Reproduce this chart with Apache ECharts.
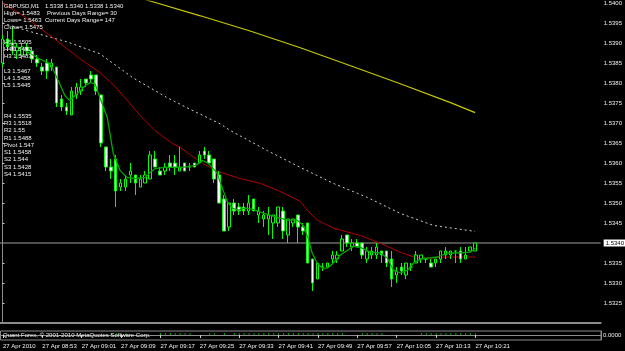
<!DOCTYPE html>
<html><head><meta charset="utf-8">
<script src="https://cdn.jsdelivr.net/npm/echarts@6/dist/echarts.min.js"></script>
<style>html,body{margin:0;padding:0;background:#000;}#c{width:625px;height:351px;}</style>
</head><body><div id="c"></div>
<script>
// ---- data ----
const timeLabels = ['27 Apr 2010','27 Apr 08:53','27 Apr 09:01','27 Apr 09:09','27 Apr 09:17','27 Apr 09:25','27 Apr 09:33','27 Apr 09:41','27 Apr 09:49','27 Apr 09:57','27 Apr 10:05','27 Apr 10:13','27 Apr 10:21'];
const opens = [1.5385,1.5391,1.5390,1.5388,1.5387,1.5389,1.5388,1.5386,1.5384,1.5385,1.5384,1.5384,1.5376,1.5374,1.5372,1.5377,1.5378,1.5381,1.5382,1.5382,1.5377,1.5364,1.5359,1.5361,1.5354,1.5354,1.5357,1.5357,1.5354,1.5355,1.5356,1.5361,1.5358,1.5358,1.5360,1.5360,1.5358,1.5360,1.5359,1.5360,1.5360,1.5363,1.5362,1.5361,1.5357,1.5351,1.5344,1.5350,1.5349,1.5349,1.5348,1.5351,1.5347,1.5346,1.5346,1.5345,1.5345,1.5348,1.5342,1.5345,1.5347,1.5344,1.5345,1.5336,1.5331,1.5334,1.5334,1.5336,1.5336,1.5338,1.5342,1.5339,1.5340,1.5340,1.5336,1.5337,1.5337,1.5338,1.5338,1.5336,1.5332,1.5334,1.5332,1.5334,1.5335,1.5336,1.5336,1.5335,1.5335,1.5336,1.5337,1.5337,1.5338,1.5338,1.5336,1.5338,1.5338];
const closes = [1.5391,1.5389,1.5388,1.5389,1.5389,1.5388,1.5386,1.5385,1.5383,1.5383,1.5385,1.5375,1.5374,1.5373,1.5378,1.5379,1.5379,1.5380,1.5381,1.5378,1.5365,1.5359,1.5358,1.5353,1.5355,1.5356,1.5358,1.5355,1.5356,1.5357,1.5362,1.5359,1.5357,1.5359,1.5359,1.5359,1.5359,1.5358,1.5359,1.5359,1.5362,1.5362,1.5360,1.5356,1.5350,1.5343,1.5350,1.5348,1.5348,1.5348,1.5350,1.5348,1.5348,1.5347,1.5347,1.5347,1.5349,1.5343,1.5346,1.5346,1.5344,1.5343,1.5335,1.5330,1.5335,1.5334,1.5335,1.5337,1.5337,1.5341,1.5340,1.5340,1.5339,1.5337,1.5338,1.5338,1.5339,1.5337,1.5335,1.5331,1.5333,1.5333,1.5335,1.5334,1.5337,1.5337,1.5336,1.5334,1.5336,1.5338,1.5338,1.5338,1.5338,1.5336,1.5337,1.5339,1.5340];
const lows = [1.5384,1.5388,1.5387,1.5386,1.5386,1.5387,1.5385,1.5384,1.5382,1.5381,1.5383,1.5374,1.5373,1.5372,1.5372,1.5376,1.5377,1.5379,1.5380,1.5377,1.5364,1.5358,1.5356,1.5349,1.5353,1.5353,1.5355,1.5352,1.5354,1.5355,1.5356,1.5359,1.5357,1.5357,1.5358,1.5357,1.5358,1.5358,1.5358,1.5359,1.5360,1.5361,1.5360,1.5355,1.5350,1.5343,1.5343,1.5347,1.5347,1.5347,1.5347,1.5348,1.5345,1.5344,1.5342,1.5341,1.5344,1.5341,1.5340,1.5344,1.5340,1.5342,1.5335,1.5328,1.5331,1.5333,1.5334,1.5335,1.5335,1.5338,1.5339,1.5338,1.5339,1.5336,1.5335,1.5336,1.5336,1.5335,1.5334,1.5329,1.5330,1.5332,1.5331,1.5333,1.5335,1.5335,1.5335,1.5334,1.5334,1.5335,1.5336,1.5336,1.5335,1.5335,1.5336,1.5338,1.5338];
const highs = [1.5392,1.5393,1.5394,1.5390,1.5390,1.5390,1.5389,1.5387,1.5385,1.5386,1.5386,1.5384,1.5377,1.5375,1.5379,1.5380,1.5381,1.5381,1.5383,1.5382,1.5377,1.5364,1.5361,1.5362,1.5356,1.5357,1.5360,1.5357,1.5357,1.5358,1.5363,1.5363,1.5359,1.5360,1.5362,1.5362,1.5364,1.5360,1.5360,1.5360,1.5363,1.5364,1.5363,1.5361,1.5358,1.5352,1.5350,1.5351,1.5350,1.5350,1.5352,1.5351,1.5349,1.5348,1.5349,1.5347,1.5349,1.5349,1.5346,1.5346,1.5347,1.5345,1.5345,1.5336,1.5335,1.5335,1.5335,1.5338,1.5338,1.5342,1.5342,1.5341,1.5341,1.5340,1.5339,1.5339,1.5340,1.5338,1.5338,1.5338,1.5334,1.5335,1.5335,1.5335,1.5338,1.5337,1.5336,1.5336,1.5336,1.5338,1.5339,1.5338,1.5338,1.5339,1.5339,1.5339,1.5340];
// moving averages: [bar index, price]
const maFast = [[0,1.53900],[1,1.53898],[4,1.53885],[7.6,1.53860],[9.7,1.53848],[10.7,1.53823],[12.7,1.53768],[13.7,1.53756],[14.7,1.53768],[15.8,1.53781],[16.8,1.53793],[17.8,1.53801],[18.8,1.53798],[19.8,1.53763],[21.3,1.53713],[22.5,1.53624],[23.9,1.53581],[25.3,1.53564],[27,1.53561],[29,1.53564],[30,1.53576],[31,1.53586],[33,1.53589],[36.5,1.53589],[39.2,1.53594],[40.6,1.53606],[41.6,1.53601],[42.6,1.53589],[43.6,1.53574],[44.6,1.53539],[45.7,1.53502],[46.7,1.53487],[47.9,1.53482],[49.3,1.53487],[50.9,1.53484],[52.4,1.53477],[54.4,1.53469],[56.4,1.53462],[57.9,1.53457],[59.9,1.53457],[61.1,1.53444],[62.1,1.53412],[62.9,1.53375],[63.9,1.53350],[65,1.53337],[66,1.53337],[67.2,1.53350],[68.6,1.53370],[70.1,1.53382],[71.3,1.53392],[72.7,1.53389],[74.7,1.53377],[76.8,1.53375],[78.2,1.53362],[79.4,1.53332],[80.8,1.53325],[82.3,1.53332],[83.5,1.53350],[84.9,1.53360],[86.3,1.53362],[88.4,1.53365],[90.4,1.53375],[92.4,1.53375],[95,1.53377],[96,1.53387]];
const maMid = [[0,1.54000],[4.6,1.53965],[11.1,1.53905],[15.8,1.53860],[19.8,1.53826],[22.5,1.53796],[24.9,1.53763],[28,1.53718],[31,1.53681],[34.5,1.53649],[36.1,1.53639],[39.8,1.53606],[43.2,1.53581],[48.3,1.53561],[52.4,1.53549],[56.4,1.53529],[60.5,1.53504],[61.9,1.53482],[64,1.53457],[67.2,1.53437],[72.7,1.53419],[76.8,1.53399],[80.8,1.53377],[83.5,1.53365],[86.3,1.53362],[90.4,1.53365],[96,1.53365]];
const maSlow = [[0,1.53950],[5.2,1.53930],[13.1,1.53903],[19.8,1.53873],[26.5,1.53813],[33.5,1.53763],[37.5,1.53738],[44.2,1.53698],[46.3,1.53681],[53.8,1.53631],[60.5,1.53589],[67.2,1.53549],[74.1,1.53514],[80.8,1.53474],[87.5,1.53444],[96,1.53429]];
const maLong = [[26,1.54020],[30,1.54005],[40.2,1.53968],[50.3,1.53930],[60.5,1.53888],[70.7,1.53843],[80.8,1.53798],[91,1.53751],[96,1.53726]];
const indicatorVals = [0,0,0,0,0,0,0,0,0,0,0,0,0,0,0,0,0,0,0,0,0,0,1,1,1,1,0,0,0,0,0,0,1,1,1,1,1,1,1,0,0,0,1,1,0,1,0,1,1,1,1,1,1,1,1,1,1,1,1,1,1,1,1,1,1,1,1,1,1,1,0,0,0,1,1,1,1,1,0,0,0,0,0,0,0,1,1,1,1,1,1,1,1,1,1,1,1];
const priceTicks = [1.5325,1.5330,1.5335,1.5345,1.5350,1.5355,1.5360,1.5365,1.5370,1.5375,1.5380,1.5385,1.5390,1.5395,1.5400];
const bidPrice = 1.5340;
const infoLeft = ['GBPUSD,M1','High= 1.5483','Lows= 1.5463','Close= 1.5475'];
const infoRight = ['1.5338 1.5340 1.5338 1.5340','Previous Days Range= 30','Current Days Range= 147'];
const levelsH = ['H5 1.5505','H4 1.5492','H3 1.5483'];
const levelsL = ['L3 1.5467','L4 1.5458','L5 1.5445'];
const pivots = ['R4 1.5535','R3 1.5518','R2 1.55','R1 1.5488','Pivot 1.547','S1 1.5458','S2 1.544','S3 1.5428','S4 1.5415'];
const copyright = 'Quant Forex, © 2001-2010 MetaQuotes Software Corp.';

// ---- build ----
const NCAT = 122;
const cats = [];
for (let i = 0; i < NCAT; i++) { const m = 8*60+45+i; cats.push(String(Math.floor(m/60)).padStart(2,'0')+':'+String(m%60).padStart(2,'0')); }
const candles = opens.map((o,i)=>[o, closes[i], lows[i], highs[i]]);
const bidLine = [[-0.5, bidPrice], [NCAT-0.5, bidPrice]];
const FONT = 'Liberation Sans';
const txtCol = '#f0f0f0';
const graphics = [];
function addText(x,y,t){ graphics.push({type:'text', left:x, top:y, style:{text:t, fill:txtCol, font:'6px "'+FONT+'"'}, z:100}); }
infoLeft.forEach((t,i)=>addText(4, 3+i*7.2, t));
infoRight.forEach((t,i)=>addText(i===1?47:45, 3+i*7.2, t));
levelsH.forEach((t,i)=>addText(4, 39+i*7.2, t));
levelsL.forEach((t,i)=>addText(4, 68+i*7.3, t));
pivots.forEach((t,i)=>addText(4, 113+i*7.3, t));
addText(3, 332, copyright);

const chart = echarts.init(document.getElementById('c'), null, {renderer:'canvas'});
const axisGray = '#8c8c8c';
chart.setOption({
  backgroundColor:'#000',
  animation:false,
  grid:[{left:0, top:0, width:601, height:323, show:false},
        {left:0, top:331, width:601, height:9, show:true, borderColor:axisGray, borderWidth:1, backgroundColor:'transparent'}],
  xAxis:[
    {type:'category', gridIndex:0, data:cats, boundaryGap:true, axisLine:{show:true, lineStyle:{color:axisGray, width:2}}, axisTick:{show:false}, axisLabel:{show:false}, splitLine:{show:false}},
    {type:'value', gridIndex:0, min:-0.5, max:NCAT-0.5, show:false},
    {type:'category', gridIndex:1, data:cats, boundaryGap:true, position:'bottom',
      axisLine:{show:true, lineStyle:{color:axisGray}},
      axisTick:{show:true, alignWithLabel:true, interval:(i)=> i%8===0 && i<=96, length:3, lineStyle:{color:'#cccccc'}},
      axisLabel:{show:true, interval:(i)=> i%8===0 && i<=96, formatter:(v,i)=>timeLabels[i/8], align:'left', verticalAlign:'top', margin:3, color:txtCol, fontSize:6, fontFamily:FONT},
      splitLine:{show:false}}
  ],
  yAxis:[
    {type:'value', gridIndex:0, position:'right', min:1.5320, max:1.54005,
      axisLine:{show:true, lineStyle:{color:axisGray}}, splitLine:{show:false},
      axisTick:{show:true, length:2, customValues:priceTicks, lineStyle:{color:'#cccccc'}},
      axisLabel:{show:true, customValues:priceTicks, formatter:(v)=>v.toFixed(4), margin:3, color:txtCol, fontSize:6, fontFamily:FONT}},
    {type:'value', gridIndex:1, position:'right', min:-2.5, max:2,
      axisLine:{show:true, lineStyle:{color:axisGray}}, splitLine:{show:false}, axisTick:{show:false},
      axisLabel:{show:true, customValues:[0], formatter:()=> '0.0000', margin:2, color:txtCol, fontSize:6, fontFamily:FONT}}
  ],
  graphic: graphics,
  series:[
    {type:'line', xAxisIndex:1, yAxisIndex:0, data:bidLine, showSymbol:false, lineStyle:{color:'#a0a0a0', width:1}, z:1, clip:false,
      endLabel:{show:true, formatter:()=>bidPrice.toFixed(4), color:'#000', backgroundColor:'#ffffff', padding:[1,2,0,2], fontSize:6, fontFamily:FONT, distance:3}},
    {type:'line', xAxisIndex:1, yAxisIndex:0, data:maLong, showSymbol:false, lineStyle:{color:'#c8c800', width:1.2}, z:2},
    {type:'line', xAxisIndex:1, yAxisIndex:0, data:maSlow, showSymbol:false, lineStyle:{color:'#d0d0d0', width:1, type:[2,3]}, z:2},
    {type:'line', xAxisIndex:1, yAxisIndex:0, data:maMid, showSymbol:false, lineStyle:{color:'#b40000', width:1}, z:2},
    {type:'candlestick', xAxisIndex:0, yAxisIndex:0, data:candles, barWidth:3,
      itemStyle:{color:'#000000', color0:'#ffffff', borderColor:'#00ff00', borderColor0:'#00ff00', borderWidth:1}, z:3},
    {type:'line', xAxisIndex:1, yAxisIndex:0, data:maFast, showSymbol:false, lineStyle:{color:'#00a800', width:1.3}, z:4},
    {type:'bar', xAxisIndex:2, yAxisIndex:1, data:indicatorVals, barWidth:1, itemStyle:{color:'#00a000'}, z:2}
  ]
});
</script></body></html>
